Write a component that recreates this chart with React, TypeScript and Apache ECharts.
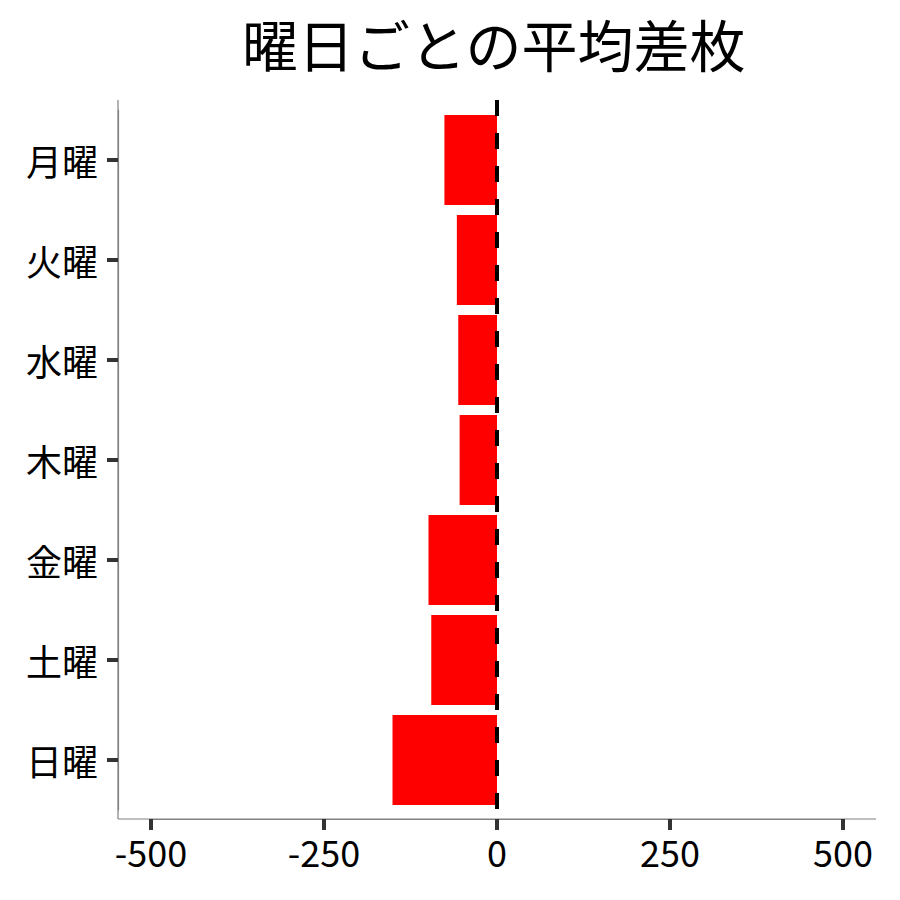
import { useEffect, useRef } from "react";
import * as echarts from "echarts";

const days = ["月曜", "火曜", "水曜", "木曜", "金曜", "土曜", "日曜"];
const avgDiff = [-76, -58, -56, -54, -99, -95, -151];

const FONT = "Noto Sans CJK JP";

const App: React.FC = () => {
  const chartRef = useRef<HTMLDivElement>(null);

  useEffect(() => {
    const chart = echarts.init(chartRef.current, null, { renderer: "svg" });
    chart.setOption({
      animation: false,
      title: {
        text: "曜日ごとの平均差枚",
        left: 242,
        top: 10,
        padding: 0,
        textStyle: {
          fontFamily: FONT,
          fontSize: 56,
          lineHeight: 64,
          fontWeight: "normal",
          color: "#000",
        },
      },
      // -500〜500 の範囲をグリッドにして、軸は offset で外側へずらす
      grid: { left: 151, right: 57, top: 110, bottom: 90 },
      xAxis: {
        type: "value",
        min: -500,
        max: 500,
        interval: 250,
        offset: 9,
        splitLine: { show: false },
        axisLine: { show: true, onZero: false, lineStyle: { color: "#808080", width: 1.2 } },
        axisTick: { show: true, length: 11, lineStyle: { color: "#333", width: 4 } },
        axisLabel: { margin: 14, fontFamily: FONT, fontSize: 36, color: "#000" },
      },
      yAxis: {
        type: "category",
        data: days,
        inverse: true,
        offset: 33,
        axisLine: { show: true, onZero: false, lineStyle: { color: "#808080", width: 1.2 } },
        axisTick: {
          show: true,
          alignWithLabel: true,
          length: 11,
          lineStyle: { color: "#333", width: 4 },
        },
        axisLabel: { margin: 20, fontFamily: FONT, fontSize: 36, color: "#000" },
      },
      series: [
        {
          type: "bar",
          data: avgDiff,
          barCategoryGap: "10%",
          itemStyle: { color: "#ff0000" },
        },
      ],
    });

    // 軸線と0の破線はグリッドより長いので graphic で描く
    const zeroX = chart.convertToPixel({ xAxisIndex: 0 }, 0);
    chart.setOption({
      graphic: [
        {
          type: "line",
          shape: { x1: 118, y1: 100, x2: 118, y2: 819 },
          style: { stroke: "#808080", lineWidth: 1.2 },
        },
        {
          type: "line",
          shape: { x1: 118, y1: 819, x2: 876, y2: 819 },
          style: { stroke: "#808080", lineWidth: 1.2 },
        },
        {
          type: "line",
          z: 10,
          shape: { x1: zeroX, y1: 100, x2: zeroX, y2: 819 },
          style: { stroke: "#000", lineWidth: 4, lineDash: [16, 17] },
        },
      ],
    });

    return () => {
      chart.dispose();
    };
  }, []);

  return (
    <div
      ref={chartRef}
      style={{ position: "absolute", left: 0, top: 0, width: 900, height: 900 }}
    />
  );
};

export default App;
